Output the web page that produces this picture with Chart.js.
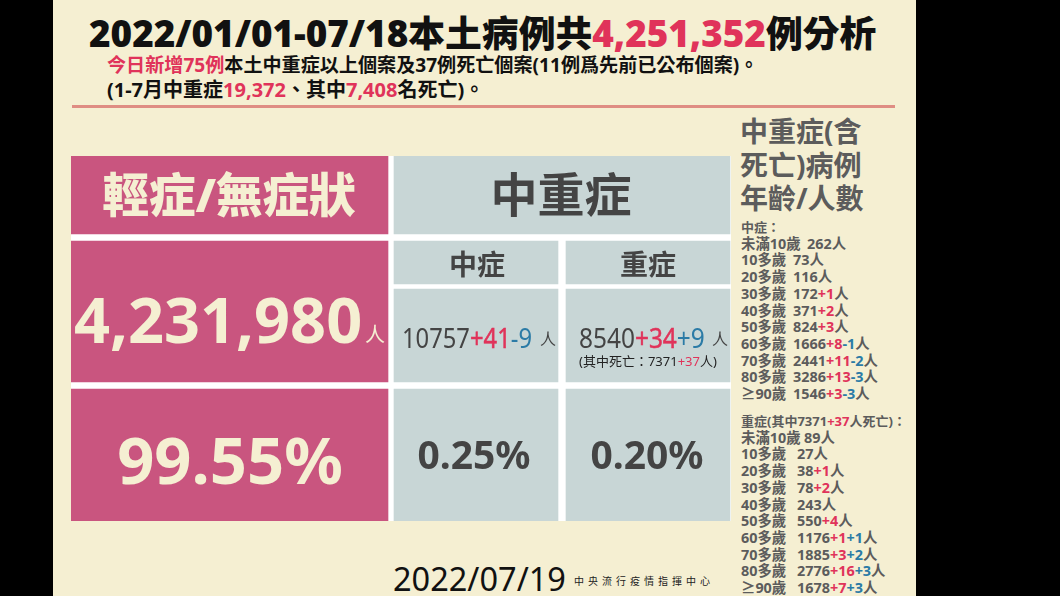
<!DOCTYPE html>
<html lang="zh-Hant">
<head>
<meta charset="utf-8">
<title>本土病例分析</title>
<script src="https://cdn.jsdelivr.net/npm/chart.js@4"></script>
<style>
  html, body { margin: 0; padding: 0; background: #000; }
  body { width: 1060px; height: 596px; position: relative; overflow: hidden;
         font-family: "Noto Sans", "Noto Sans CJK TC", sans-serif; }
  #panel { position: absolute; left: 53px; top: 0; width: 863px; height: 596px; background: #f5efd2; }
  #rule { position: absolute; left: 72px; top: 105px; width: 823px; height: 3px; background: #df8d83; }
  #cells { position: absolute; left: 71px; top: 156px; background: #fff; }
  .t { position: absolute; white-space: nowrap; line-height: 1; }
  .c { transform: translate(-50%, -50%); }
  .b { font-weight: 700; }
  .red { color: #e0335a; }
  .blue { color: #2b7ba6; }
  .thick .red { -webkit-text-stroke: 0.5px #e0335a; }
  .list { position: absolute; left: 741px; color: #5c5c5c; font-size: 14.4px; font-weight: 700; line-height: 16.7px; white-space: nowrap; }
  .list .age { display: inline-block; }
  .list .head { font-size: 13px; }
</style>
</head>
<body>
<div id="panel"></div>
<div id="rule"></div>
<canvas id="cells" width="660" height="365"></canvas>
<div id="labels"></div>
<div class="list" id="moderateList" style="top:219px"></div>
<div class="list" id="severeList" style="top:413px"></div>

<script>
  // ======== Dados ========
  const totalCases = "4,251,352";
  const groupNames = ["輕症/無症狀", "中重症", "中症", "重症"];
  const groupCounts = ["4,231,980", 10757, 8540];
  const groupShares = ["99.55%", "0.25%", "0.20%"];
  const todayAdd = [41, 34];
  const todayAdjust = [-9, 9];

  const ageLabels = ["未滿10歲", "10多歲", "20多歲", "30多歲", "40多歲", "50多歲", "60多歲", "70多歲", "80多歲", "≥90歲"];
  const moderateBase = [262, 73, 116, 172, 371, 824, 1666, 2441, 3286, 1546];
  const moderateAdd = [0, 0, 0, 1, 2, 3, 8, 11, 13, 3];
  const moderateAdjust = [0, 0, 0, 0, 0, 0, -1, -2, -3, -3];
  const severeBase = [89, 27, 38, 78, 243, 550, 1176, 1885, 2776, 1678];
  const severeAdd = [0, 0, 1, 2, 0, 4, 1, 3, 16, 7];
  const severeAdjust = [0, 0, 0, 0, 0, 0, 1, 2, 3, 3];

  // ======== Células da tabela (layout em pixels do canvas) ========
  const rows = { head: [0, 78], sub: [85, 128], count: [133, 226], countTall: [85, 226], share: [233, 365] };
  const PINK = "#c9557f";
  const GREY = "#c8d6d6";

  function column(label, center, width, color, rowList) {
    return {
      label,
      data: rowList.map((r) => ({ x: center, y: r })),
      barThickness: width,
      backgroundColor: color,
      borderWidth: 0,
      grouped: false,
    };
  }

  new Chart(document.getElementById("cells"), {
    type: "bar",
    data: {
      datasets: [
        column(groupNames[0], 158.5, 317, PINK, [rows.head, rows.countTall, rows.share]),
        column(groupNames[1], 491, 336, GREY, [rows.head]),
        column(groupNames[2], 405, 164, GREY, [rows.sub, rows.count, rows.share]),
        column(groupNames[3], 577, 164, GREY, [rows.sub, rows.count, rows.share]),
      ],
    },
    options: {
      responsive: false,
      animation: false,
      layout: { padding: 0 },
      plugins: { legend: { display: false }, tooltip: { enabled: false } },
      scales: {
        x: { type: "linear", display: false, offset: false, min: 0, max: 660 },
        y: { display: false, reverse: true, min: 0, max: 365 },
      },
    },
  });

  // ======== Textos ========
  const labels = document.getElementById("labels");
  const red = (s) => `<span class="red">${s}</span>`;
  const blue = (s) => `<span class="blue">${s}</span>`;
  const signed = (n) => (n > 0 ? "+" + n : String(n));

  function put(x, y, html, css, cls) {
    const el = document.createElement("div");
    el.className = "t " + (cls || "");
    el.style.cssText = `left:${x}px;top:${y}px;${css || ""}`;
    el.innerHTML = html;
    labels.appendChild(el);
  }

  const CREAM = "color:#f5efd2;";
  const DARK = "color:#444;";

  put(89, 33, `2022/01/01-07/18本土病例共${red(totalCases)}例分析`, "font-size:36.8px;font-weight:900;color:#111;transform:translateY(-50%)", "b");
  put(107, 66, `${red("今日新增75例")}本土中重症以上個案及37例死亡個案(11例爲先前已公布個案)。`, "font-size:19.1px;color:#111;transform:translateY(-50%)", "b");
  put(107, 90, `(1-7月中重症${red("19,372")}、其中${red("7,408")}名死亡)。`, "font-size:20px;color:#111;transform:translateY(-50%)", "b");

  put(740, 131, "中重症(含", "font-size:28px;color:#5c5c5c;transform:translateY(-50%)", "b");
  put(740, 165, "死亡)病例", "font-size:28px;color:#5c5c5c;transform:translateY(-50%)", "b");
  put(740, 198, "年齡/人數", "font-size:28px;color:#5c5c5c;transform:translateY(-50%)", "b");

  put(229, 194, groupNames[0], "font-size:46.5px;font-weight:900;" + CREAM, "c b");
  put(561, 194, groupNames[1], "font-size:47px;" + DARK, "c b");
  put(477, 264, groupNames[2], "font-size:28px;" + DARK, "c b");
  put(648, 264, groupNames[3], "font-size:28px;" + DARK, "c b");

  put(74, 318, groupCounts[0], "font-size:63px;transform:translateY(-50%);" + CREAM, "b");
  put(365, 335, "人", "font-size:20px;transform:translateY(-50%);" + CREAM);
  put(230, 459, groupShares[0], "font-size:65px;" + CREAM, "c b");
  put(474, 453, groupShares[1], "font-size:39px;" + DARK, "c b");
  put(647, 453, groupShares[2], "font-size:39px;" + DARK, "c b");

  const narrow = (k) => `font-size:27px;transform-origin:0 50%;transform:translateY(-50%) scaleX(${k});` + DARK;
  put(402, 337, `${groupCounts[1]}${red(signed(todayAdd[0]))}${blue(signed(todayAdjust[0]))}`, narrow(0.88), "thick");
  put(540, 339, "人", "font-size:16px;transform:translateY(-50%);" + DARK);
  put(579, 337, `${groupCounts[2]}${red(signed(todayAdd[1]))}${blue(signed(todayAdjust[1]))}`, narrow(0.905), "thick");
  put(712, 339, "人", "font-size:16px;transform:translateY(-50%);" + DARK);
  put(579, 361, `(其中死亡：7371${red("+37")}人)`, "font-size:13px;color:#222;transform:translateY(-50%)");

  put(393, 579, "2022/07/19", "font-size:32.5px;color:#111;transform:translateY(-50%)");
  put(574, 581, "中央流行疫情指揮中心", "font-size:10px;letter-spacing:4px;color:#222;transform:translateY(-50%)");

  // ======== Listas por idade ========
  function fillList(id, title, base, add, adjust, widths) {
    const lines = ageLabels.map((age, i) => {
      const w = i === 0 ? widths[0] : widths[1];
      const extra = (add[i] ? red(signed(add[i])) : "") + (adjust[i] ? blue(signed(adjust[i])) : "");
      return `<span class="age" style="width:${w}px">${age}</span>${base[i]}${extra}人`;
    });
    document.getElementById(id).innerHTML = [`<span class="head">${title}</span>`, ...lines].join("<br>");
  }
  fillList("moderateList", "中症：", moderateBase, moderateAdd, moderateAdjust, [66, 52]);
  fillList("severeList", `重症(其中7371${red("+37")}人死亡)：`, severeBase, severeAdd, severeAdjust, [63, 56]);
</script>
</body>
</html>
